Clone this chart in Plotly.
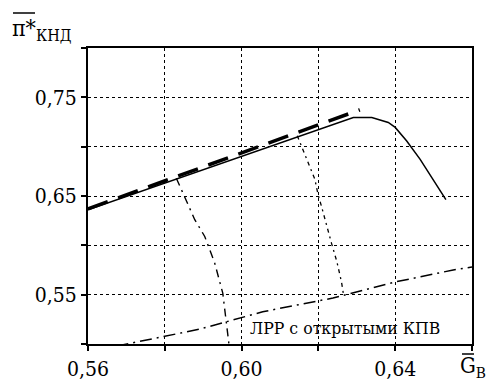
import plotly.graph_objects as go

# ---- data ----
solid_x = [0.56, 0.6291, 0.6339, 0.6382, 0.6400, 0.6430, 0.6465, 0.6496, 0.6532]
solid_y = [0.636, 0.7296, 0.7296, 0.7245, 0.7195, 0.7058, 0.6872, 0.6685, 0.6464]

dashed_x = [0.56, 0.6308]
dashed_y = [0.637, 0.7374]

branch1_x = [0.583, 0.586, 0.5878, 0.5904, 0.593, 0.5951, 0.5958, 0.5967]
branch1_y = [0.668, 0.6413, 0.626, 0.609, 0.582, 0.5515, 0.5276, 0.500]

branch2_x = [0.6145, 0.617, 0.6191, 0.6199, 0.6208, 0.6234, 0.6248, 0.626, 0.6265]
branch2_y = [0.711, 0.687, 0.6668, 0.6515, 0.6396, 0.6023, 0.5836, 0.5632, 0.551]

lrr_x = [0.5613, 0.5801, 0.589, 0.596, 0.6055, 0.6238, 0.6404, 0.6551, 0.66]
lrr_y = [0.493, 0.508, 0.515, 0.5225, 0.5327, 0.5466, 0.5632, 0.575, 0.578]

x_tickvals = [0.56, 0.60, 0.64]
x_ticktext = ["0,56", "0,60", "0,64"]
x_minorvals = [0.58, 0.62, 0.66]
y_tickvals = [0.55, 0.65, 0.75]
y_ticktext = ["0,55", "0,65", "0,75"]
y_minorvals = [0.50, 0.60, 0.70, 0.80]

lrr_label = "ЛРР с открытыми КПВ"
y_title = "π*<sub>КНД</sub>"
x_title = "G<sub>В</sub>"

FONT = "DejaVu Serif Condensed, DejaVu Serif"

# page offset (browser body margin)
OFF = 8
# plot area in page pixels
L, R, T, B = 88, 472, 48, 344
W, H = 496, 385


def px(xp):
    return (xp - L) / (R - L)


def py(yp):
    return (B - yp) / (B - T)


fig = go.Figure()

fig.add_trace(go.Scatter(x=lrr_x, y=lrr_y, mode="lines",
                         line=dict(color="black", width=1.5, dash="12px,5px,2px,5px")))
fig.add_trace(go.Scatter(x=branch1_x, y=branch1_y, mode="lines",
                         line=dict(color="black", width=1.4, dash="8px,5px,2px,5px")))
fig.add_trace(go.Scatter(x=branch2_x, y=branch2_y, mode="lines",
                         line=dict(color="black", width=1.3, dash="4px,4px,2px,4px")))
fig.add_trace(go.Scatter(x=solid_x, y=solid_y, mode="lines",
                         line=dict(color="black", width=1.5)))
fig.add_trace(go.Scatter(x=dashed_x, y=dashed_y, mode="lines",
                         line=dict(color="black", width=3.5, dash="21px,11px")))

grid = dict(gridcolor="black", gridwidth=1, griddash="3px,3px")


def axis_common(minorvals):
    return dict(
        showline=True, linecolor="black", linewidth=2, mirror=True,
        showgrid=True, **grid,
        ticks="outside", ticklen=5, tickwidth=1.5, tickcolor="black",
        tickfont=dict(family=FONT, size=21, color="black"),
        minor=dict(tickmode="array", tickvals=minorvals, showgrid=True, **grid,
                   ticks="outside", ticklen=5, tickwidth=1.5, tickcolor="black"),
        zeroline=False, fixedrange=True,
    )


fig.update_xaxes(range=[0.56, 0.66], tickmode="array",
                 tickvals=x_tickvals, ticktext=x_ticktext, **axis_common(x_minorvals))
fig.update_yaxes(range=[0.50, 0.80], tickmode="array",
                 tickvals=y_tickvals, ticktext=y_ticktext, **axis_common(y_minorvals))

fig.add_annotation(x=0.6016, y=0.516, xref="x", yref="y", text=lrr_label,
                   showarrow=False, xanchor="left", yanchor="middle",
                   font=dict(family=FONT, size=17.5, color="black"))

fig.add_annotation(x=px(10), y=py(30), xref="paper", yref="paper", text=y_title,
                   showarrow=False, xanchor="left", yanchor="middle",
                   font=dict(family=FONT, size=23, color="black"))
fig.add_annotation(x=px(458), y=py(367), xref="paper", yref="paper", text=x_title,
                   showarrow=False, xanchor="left", yanchor="middle",
                   font=dict(family=FONT, size=22, color="black"))

# overlines
fig.add_shape(type="line", xref="paper", yref="paper",
              x0=px(13), x1=px(35), y0=py(13), y1=py(13),
              line=dict(color="black", width=1.5))
fig.add_shape(type="line", xref="paper", yref="paper",
              x0=px(462), x1=px(474), y0=py(354), y1=py(354),
              line=dict(color="black", width=1.5))

fig.update_layout(
    width=W - OFF, height=H - OFF,
    margin=dict(l=L - OFF, r=W - R, t=T - OFF, b=H - B, autoexpand=False),
    plot_bgcolor="white", paper_bgcolor="white",
    showlegend=False,
)

fig.write_html("out.html")
